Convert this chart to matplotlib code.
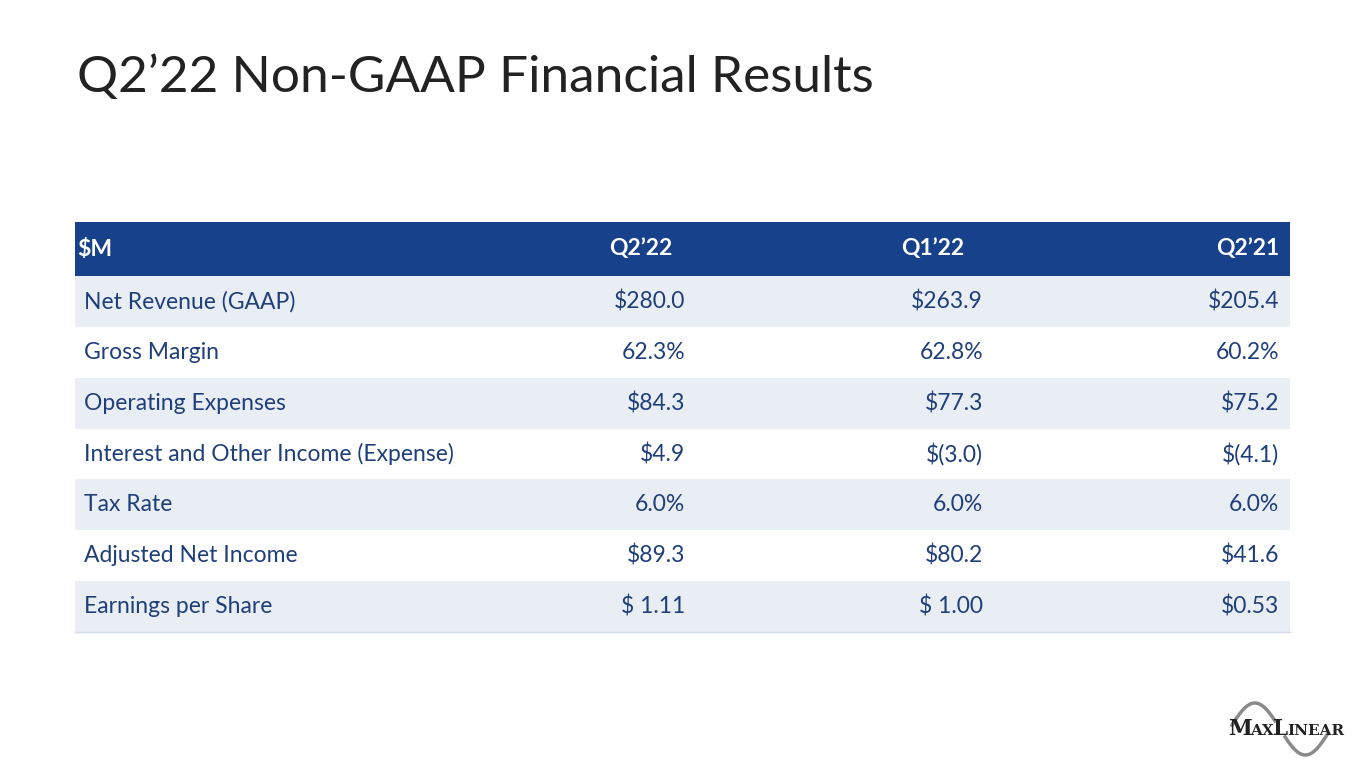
import matplotlib
matplotlib.use("Agg")
import matplotlib.pyplot as plt
from matplotlib.patches import Rectangle
import numpy as np

title = "Q2\u201922 Non-GAAP Financial Results"
headers = ["$M", "Q2\u201922", "Q1\u201922", "Q2\u201921"]
row_labels = ["Net Revenue (GAAP)", "Gross Margin", "Operating Expenses",
              "Interest and Other Income (Expense)", "Tax Rate",
              "Adjusted Net Income", "Earnings per Share"]
q2_22 = ["$280.0", "62.3%", "$84.3", "$4.9", "6.0%", "$89.3", "$ 1.11"]
q1_22 = ["$263.9", "62.8%", "$77.3", "$(3.0)", "6.0%", "$80.2", "$ 1.00"]
q2_21 = ["$205.4", "60.2%", "$75.2", "$(4.1)", "6.0%", "$41.6", "$0.53"]

FONT = ["Lato", "DejaVu Sans"]
fig = plt.figure(figsize=(13.65, 7.68), dpi=100)
ax = fig.add_axes([0, 0, 1, 1])
ax.set_xlim(0, 1365); ax.set_ylim(768, 0); ax.axis("off")

ax.text(77, 78, title, fontsize=37, color="#222222", va="center", ha="left", family=FONT)

x0, x1 = 75, 1290
hy0, hy1 = 222, 276
rh = (632 - 276) / 7
ax.add_patch(Rectangle((x0, hy0), x1 - x0, hy1 - hy0, color="#17418A", lw=0))
hc = (hy0 + hy1) / 2
hs = dict(fontsize=16.5, color="white", fontweight="bold", va="center", family=FONT)
ax.text(77, hc, headers[0], ha="left", **hs)
ax.text(641, hc, headers[1], ha="center", **hs)
ax.text(933, hc, headers[2], ha="center", **hs)
ax.text(1279, hc, headers[3], ha="right", **hs)

cols = [(685, q2_22), (983, q1_22), (1279, q2_21)]
for i, lab in enumerate(row_labels):
    y = hy1 + i * rh
    col = "#E9EDF4" if i % 2 == 0 else "white"
    ax.add_patch(Rectangle((x0, y), x1 - x0, rh, color=col, lw=0))
    yc = y + rh / 2
    ts = dict(fontsize=16.5, color="#1F3F7A", va="center", family=FONT)
    ax.text(84, yc, lab, ha="left", **ts)
    for xr, vals in cols:
        ax.text(xr, yc, vals[i], ha="right", **ts)
ax.plot([x0, x1], [632, 632], color="#D5DBE6", lw=1)

# logo
xs = np.linspace(1232, 1328, 200)
ys = 729 - 26 * np.sin(2 * np.pi * (xs - 1232) / 96 * 0.95 + 0.15)
m = (xs < 1275) | (xs > 1285)
ax.plot(xs, np.where(m, ys, np.nan), color="#8A8A8A", lw=2.5)
lx = 1228
for s, fs in [("M", 15.5), ("AX", 11), ("L", 15.5), ("INEAR", 11)]:
    tx = ax.text(lx, 735, s, fontsize=fs, family="DejaVu Serif", color="#222222",
                 fontweight="bold", va="baseline", ha="left")
    fig.canvas.draw()
    lx += tx.get_window_extent().width * 0.95

fig.savefig("out.png", dpi=100)
